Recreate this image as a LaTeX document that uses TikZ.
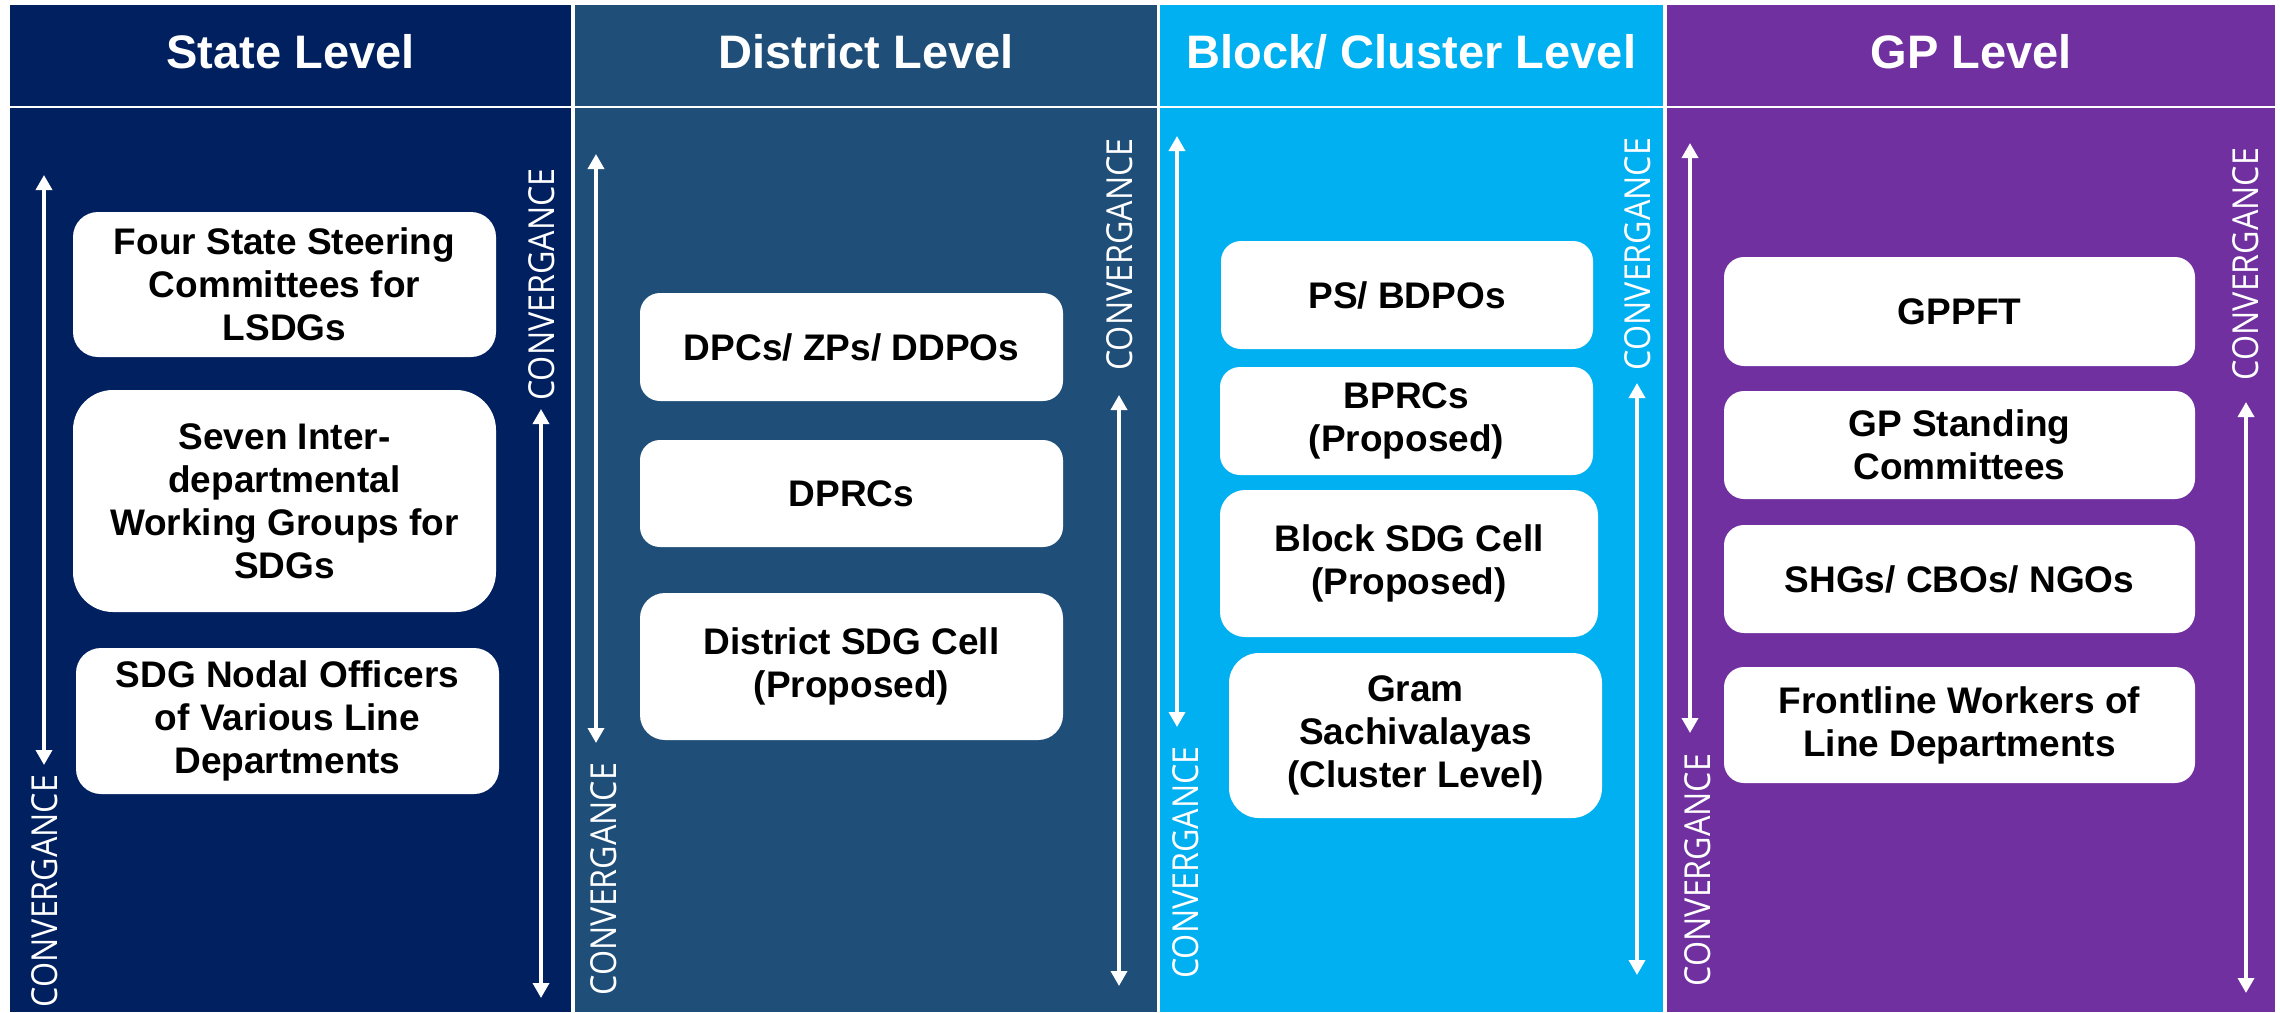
\documentclass[tikz,border=0pt]{standalone}
\usepackage{fontspec}
\setmainfont{Liberation Sans}
\newfontfamily\convfont[FakeStretch=0.9]{Open Sans}
\usetikzlibrary{arrows.meta}
\definecolor{cstate}{HTML}{002060}
\definecolor{cdist}{HTML}{1F4E79}
\definecolor{cblock}{HTML}{00B0F0}
\definecolor{cgp}{HTML}{7030A0}
\tikzset{
  box/.style={fill=white, draw=none, align=center, inner sep=0pt, text=black,
    font=\bfseries\fontsize{37}{43}\selectfont},
  title/.style={text=white, inner sep=0pt, font=\bfseries\fontsize{47}{52}\selectfont},
  convtext/.style={text=white, inner sep=0pt, rotate=90, font=\convfont\fontsize{35.8}{40}\selectfont},
  convarrow/.style={draw=white, line width=3.5pt,
    {Triangle[width=16pt,length=15pt]}-{Triangle[width=16pt,length=15pt]}},
  seprule/.style={draw=white, line width=2pt}
}
\begin{document}
\begin{tikzpicture}[x=1pt,y=-1pt]
\useasboundingbox (0,0) rectangle (2280,1012);
\fill[white] (0,0) rectangle (2280,1012);
% panels
\fill[cstate] (10,5) rectangle (571,1012);
\fill[cdist] (575,5) rectangle (1157,1012);
\fill[cblock] (1160,5) rectangle (1663,1012);
\fill[cgp] (1667,5) rectangle (2275,1012);
\draw[seprule] (10,107) -- (2275,107);
% titles
\node[title] (t1) at (290.5,52) {State Level};
\node[title] (t2) at (866,52) {District Level};
\node[title] (t3) at (1411.5,52) {Block/ Cluster Level};
\node[title] (t4) at (1971,52) {GP Level};
% panel 1 boxes
\node[box, minimum width=423pt, minimum height=145pt, rounded corners=25pt] (p1a) at (284.5,284.5) {Four State Steering\\Committees for\\LSDGs};
\node[box, minimum width=423pt, minimum height=222pt, rounded corners=40pt] (p1b) at (284.5,501) {Seven Inter-\\departmental\\Working Groups for\\SDGs};
\node[box, minimum width=423pt, minimum height=146pt, rounded corners=25pt] (p1c) at (287.5,721) {SDG Nodal Officers\\of Various Line\\Departments};
% panel 2 boxes
\node[box, minimum width=423pt, minimum height=108pt, rounded corners=20pt] (p2a) at (851.5,347) {DPCs/ ZPs/ DDPOs};
\node[box, minimum width=423pt, minimum height=107pt, rounded corners=20pt] (p2b) at (851.5,493.5) {DPRCs};
\node[box, minimum width=423pt, minimum height=147pt, rounded corners=25pt] (p2c) at (851.5,666.5) {District SDG Cell\\(Proposed)};
% panel 3 boxes
\node[box, minimum width=372pt, minimum height=108pt, rounded corners=20pt] (p3a) at (1407,295) {PS/ BDPOs};
\node[box, minimum width=373pt, minimum height=108pt, rounded corners=20pt] (p3b) at (1406.5,421) {BPRCs\\(Proposed)};
\node[box, minimum width=378pt, minimum height=147pt, rounded corners=25pt] (p3c) at (1409,563.5) {Block SDG Cell\\(Proposed)};
\node[box, minimum width=373pt, minimum height=165pt, rounded corners=30pt] (p3d) at (1415.5,735.5) {Gram\\Sachivalayas\\(Cluster Level)};
% panel 4 boxes
\node[box, minimum width=471pt, minimum height=109pt, rounded corners=20pt] (p4a) at (1959.5,311.5) {GPPFT};
\node[box, minimum width=471pt, minimum height=108pt, rounded corners=20pt] (p4b) at (1959.5,445) {GP Standing\\Committees};
\node[box, minimum width=471pt, minimum height=108pt, rounded corners=20pt] (p4c) at (1959.5,579) {SHGs/ CBOs/ NGOs};
\node[box, minimum width=471pt, minimum height=116pt, rounded corners=20pt] (p4d) at (1959.5,725) {Frontline Workers of\\Line Departments};
% convergence labels
\node[convtext] (c1l) at (45,891) {CONVERGANCE};
\node[convtext] (c1r) at (542,284.5) {CONVERGANCE};
\node[convtext] (c2l) at (604,879) {CONVERGANCE};
\node[convtext] (c2r) at (1120,254.5) {CONVERGANCE};
\node[convtext] (c3l) at (1186,862.5) {CONVERGANCE};
\node[convtext] (c3r) at (1638,254) {CONVERGANCE};
\node[convtext] (c4l) at (1698,870) {CONVERGANCE};
\node[convtext] (c4r) at (2246,264) {CONVERGANCE};
% arrow end points
\coordinate (a1lt) at (44,175);   \coordinate (a1lb) at (44,765);
\coordinate (a1rt) at (541,409);  \coordinate (a1rb) at (541,998);
\coordinate (a2lt) at (596,154);  \coordinate (a2lb) at (596,743);
\coordinate (a2rt) at (1119,395); \coordinate (a2rb) at (1119,986);
\coordinate (a3lt) at (1177,136); \coordinate (a3lb) at (1177,727);
\coordinate (a3rt) at (1637,383); \coordinate (a3rb) at (1637,975);
\coordinate (a4lt) at (1690,143); \coordinate (a4lb) at (1690,733);
\coordinate (a4rt) at (2246,402); \coordinate (a4rb) at (2246,993);
\draw[convarrow] (a1lt) -- (a1lb);
\draw[convarrow] (a1rt) -- (a1rb);
\draw[convarrow] (a2lt) -- (a2lb);
\draw[convarrow] (a2rt) -- (a2rb);
\draw[convarrow] (a3lt) -- (a3lb);
\draw[convarrow] (a3rt) -- (a3rb);
\draw[convarrow] (a4lt) -- (a4lb);
\draw[convarrow] (a4rt) -- (a4rb);
\end{tikzpicture}
\end{document}
